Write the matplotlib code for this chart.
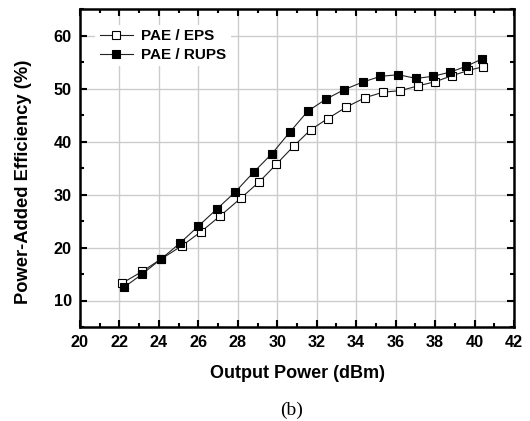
import matplotlib
matplotlib.use("Agg")
import matplotlib.pyplot as plt
from matplotlib.ticker import MultipleLocator

plt.rcParams['font.family'] = ['Liberation Sans', 'DejaVu Sans']

# Data
eps_x = [22.15, 23.16, 24.1, 25.16, 26.14, 27.12, 28.15, 29.09, 29.95, 30.85, 31.69,
         32.55, 33.5, 34.47, 35.37, 36.24, 37.14, 38.02, 38.85, 39.68, 40.42]
eps_y = [13.3, 15.5, 17.8, 20.3, 23.0, 26.0, 29.3, 32.4, 35.7, 39.2, 42.2,
         44.3, 46.5, 48.3, 49.3, 49.6, 50.5, 51.3, 52.4, 53.4, 54.1]
rups_x = [22.23, 23.16, 24.1, 25.06, 25.99, 26.92, 27.85, 28.8, 29.73, 30.62, 31.54,
          32.47, 33.4, 34.33, 35.23, 36.14, 37.04, 37.88, 38.78, 39.58, 40.4]
rups_y = [12.5, 15.0, 17.8, 20.8, 24.0, 27.2, 30.4, 34.2, 37.7, 41.7, 45.7,
          48.0, 49.8, 51.2, 52.3, 52.6, 51.9, 52.3, 53.1, 54.2, 55.6]

labels = ['PAE / EPS', 'PAE / RUPS']
x_label = 'Output Power (dBm)'
y_label = 'Power-Added Efficiency (%)'
caption = '(b)'

fig = plt.figure(figsize=(5.30, 4.21), dpi=100)
ax = fig.add_axes([80/530, 1-327/421, (514-80)/530, (327-9)/421])

ax.plot(eps_x, eps_y, '-', color='#222222', lw=0.8, marker='s', ms=5.2,
        mfc='white', mec='black', mew=0.8, label=labels[0], zorder=3)
ax.plot(rups_x, rups_y, '-', color='#222222', lw=0.8, marker='s', ms=5.2,
        mfc='black', mec='black', mew=0.8, label=labels[1], zorder=4)

ax.set_xlim(20, 42)
ax.set_ylim(5, 65)
ax.xaxis.set_major_locator(MultipleLocator(2))
ax.xaxis.set_minor_locator(MultipleLocator(1))
ax.yaxis.set_major_locator(MultipleLocator(10))
ax.yaxis.set_minor_locator(MultipleLocator(5))
ax.set_yticks([10, 20, 30, 40, 50, 60])

ax.grid(True, which='major', color='#cccccc', lw=1.0, zorder=0)
ax.set_axisbelow(True)

ax.tick_params(which='both', direction='in', top=True, right=True, width=1.5,
               labelsize=11.7)
ax.tick_params(which='major', length=5, pad=6)
ax.tick_params(which='minor', length=3)
for lab in ax.get_xticklabels() + ax.get_yticklabels():
    lab.set_fontweight('bold')
for s in ax.spines.values():
    s.set_linewidth(1.8)

ax.set_xlabel(x_label, fontsize=13, fontweight='bold')
ax.xaxis.set_label_coords(0.5, (327 - 373) / 318, transform=ax.transAxes)
ax.xaxis.label.set_va('center')
ax.set_ylabel(y_label, fontsize=13.2, fontweight='bold')
ax.yaxis.set_label_coords((23 - 80) / 434, (327 - 181.5) / 318, transform=ax.transAxes)
ax.yaxis.label.set_va('center')

leg = ax.legend(loc='upper left', bbox_to_anchor=(0.024, 0.965), frameon=True,
                prop={'weight': 'bold', 'size': 11},
                handlelength=2.2, handletextpad=0.5, labelspacing=0.3,
                borderpad=0.3, borderaxespad=0.3)
leg.get_frame().set_edgecolor('none')
leg.get_frame().set_facecolor('white')
leg.get_frame().set_alpha(1)

fig.text(292 / 530, 1 - 410/421, caption, ha='center', va='center',
         fontsize=14, family='Liberation Serif')

fig.savefig('out.png', dpi=100)
